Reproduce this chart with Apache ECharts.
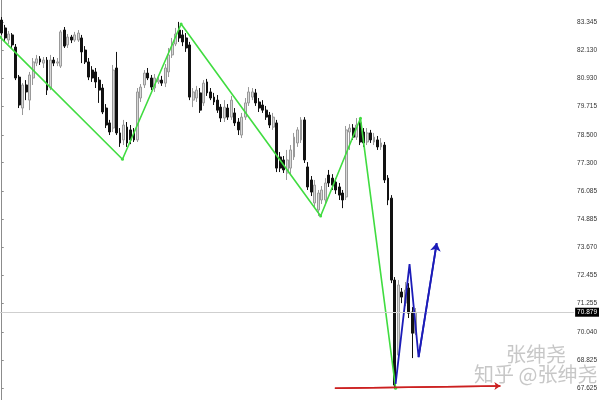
<!DOCTYPE html>
<html>
<head>
<meta charset="utf-8">
<script src="https://cdn.jsdelivr.net/npm/echarts@6/dist/echarts.min.js"></script>
<style>html,body{margin:0;padding:0;background:#fff}#chart{width:600px;height:400px}</style>
</head>
<body>
<div id="chart"></div>
<script>
// ---- data ----
const slotCount = 165; // category slots across the plot (candles occupy the first ones)
const opens  = [83.43,83.09,82.57,82.79,82.27,80.98,79.65,80.64,79.99,80.94,81.58,81.76,81.58,81.71,80.51,81.71,81.58,81.45,83.00,82.36,82.70,82.57,82.57,82.66,82.14,81.63,81.28,81.20,80.85,80.51,79.65,79.01,78.79,81.37,78.58,78.28,78.83,78.71,78.62,78.28,80.08,80.64,81.15,80.94,80.51,80.77,80.85,80.72,81.20,81.93,82.40,83.00,82.79,82.66,82.36,79.99,80.08,80.30,79.87,80.77,80.34,80.12,79.99,79.69,79.22,79.65,79.26,79.44,79.05,78.49,79.26,79.87,80.12,80.30,79.91,79.78,79.56,79.35,78.83,79.01,77.55,77.42,76.86,77.07,77.55,78.15,78.28,79.14,77.12,76.56,75.57,75.27,75.70,75.70,76.77,76.64,76.47,76.26,76.00,75.83,78.62,78.79,78.40,79.01,78.62,78.19,78.58,78.19,78.28,77.98,78.06,76.64,75.78,72.26,69.04,71.75,71.27,71.92,70.89,69.98];
const closes = [82.87,82.66,82.83,82.36,80.94,79.78,80.64,80.34,81.07,81.63,81.76,81.63,81.71,80.42,81.71,81.58,81.63,82.92,82.31,82.70,82.57,82.79,82.87,82.06,81.63,80.98,80.94,80.77,80.42,79.48,78.92,78.62,81.28,78.58,78.15,78.92,78.15,78.28,78.28,80.34,80.55,81.15,80.94,80.55,80.94,80.85,80.72,81.37,81.93,82.40,82.83,82.66,82.49,82.23,80.12,80.34,80.42,79.56,80.72,80.30,80.08,79.91,79.56,79.22,79.69,79.26,79.99,79.01,78.71,79.26,79.87,80.34,80.34,79.87,79.65,79.56,79.26,78.92,79.26,77.07,77.07,76.99,77.42,77.85,78.40,78.71,79.14,77.42,76.26,76.04,76.34,76.00,76.13,76.43,76.43,76.34,76.13,75.91,75.70,78.71,78.79,78.40,78.92,78.19,78.15,78.58,78.28,78.40,77.98,78.15,76.56,75.70,72.26,67.75,72.05,71.53,71.83,70.84,69.98,70.879];
const lows   = [82.79,82.49,82.40,82.23,80.85,79.65,79.35,79.99,79.56,80.64,81.45,81.50,81.37,80.21,80.42,81.45,81.45,81.37,82.23,82.23,82.44,82.49,82.49,81.58,81.54,80.85,80.77,80.51,79.87,79.39,78.79,78.49,78.62,78.49,77.98,78.06,77.98,78.10,78.19,78.19,79.91,80.51,80.85,80.42,80.34,80.68,80.60,80.55,80.98,81.80,82.31,82.49,82.31,82.06,79.99,79.69,79.91,79.44,79.74,80.17,79.99,79.78,79.44,79.05,79.05,79.14,79.14,78.88,78.49,78.36,79.14,79.74,79.99,79.74,79.48,79.44,79.14,78.79,78.71,76.90,76.90,76.86,76.56,76.77,77.42,77.98,78.15,77.29,76.13,75.87,75.40,75.01,75.53,75.48,76.26,76.13,75.96,75.70,75.35,75.70,77.85,78.28,78.28,78.06,77.98,78.06,78.15,78.06,77.85,77.85,76.43,75.48,72.13,67.58,68.82,71.27,71.14,70.63,68.91,69.90];
const highs  = [83.56,83.22,82.96,82.87,82.40,81.07,80.72,80.85,81.20,81.80,81.93,81.88,81.84,81.84,81.93,81.84,81.80,83.00,83.13,82.83,82.79,82.92,83.00,82.79,82.31,81.80,81.45,81.37,80.98,80.68,79.82,79.14,81.50,82.06,78.79,79.14,79.05,78.92,78.79,80.51,80.68,81.28,81.37,81.07,81.11,80.98,81.03,81.54,82.23,82.66,83.09,83.35,83.00,82.87,82.49,80.51,80.60,80.51,80.85,80.90,80.51,80.30,80.21,79.82,79.99,79.82,80.17,79.65,79.22,79.44,80.08,80.55,80.51,80.47,80.08,79.99,79.74,79.48,79.44,79.14,77.76,77.59,77.85,78.06,78.58,78.83,79.26,79.26,77.33,76.73,76.56,76.13,76.30,76.64,76.99,76.81,76.64,76.43,76.13,78.88,78.96,78.96,79.22,79.22,78.79,78.79,78.71,78.58,78.45,78.36,78.19,76.77,75.91,72.39,72.26,71.92,72.18,72.13,71.10,71.06];
const currentPrice = 70.879;
const yTicks = [83.345,82.130,80.930,79.715,78.500,77.300,76.085,74.885,73.670,72.455,71.255,70.040,68.825,67.625];
// green zigzag (x in candle-slot units)
const zigzagX = [-0.5, 34.7, 51.55, 91.65, 103.1, 113.2];
const zigzagY = [82.70, 77.45, 83.26, 75.01, 79.21, 67.62];
// blue projected wave
const waveX = [113.2, 117.2, 119.8, 125.0];
const waveY = [67.80, 72.95, 68.95, 73.85];
// red support line
const supportX = [95.75, 143.3];
const supportY = [67.62, 67.71];

const categories = Array.from({length: slotCount}, (_, i) => String(i + 1));
const candles = opens.map((o, i) => [o, closes[i], lows[i], highs[i]]);
const pairs = (xs, ys) => xs.map((x, i) => [x, ys[i]]);

const chart = echarts.init(document.getElementById('chart'), null, {renderer: 'canvas'});
chart.setOption({
  animation: false,
  backgroundColor: '#ffffff',
  grid: {left: 0, right: 24, top: 0, bottom: 0},
  xAxis: [
    {type: 'category', data: categories, show: false, boundaryGap: true},
    {type: 'value', min: -0.5, max: slotCount - 0.5, show: false}
  ],
  yAxis: {
    type: 'value', position: 'right', min: 67.11, max: 84.29,
    splitLine: {show: false},
    axisLine: {show: true, lineStyle: {color: '#8c8c8c', width: 1}},
    axisTick: {show: true, customValues: yTicks, length: 2, inside: false, lineStyle: {color: '#8c8c8c'}},
    axisLabel: {
      customValues: yTicks, margin: 3, fontSize: 6.5, color: '#333',
      fontFamily: 'Liberation Sans',
      formatter: v => v.toFixed(3)
    }
  },
  series: [
    {
      type: 'candlestick', xAxisIndex: 0, yAxisIndex: 0,
      data: candles, barWidth: 2.4,
      itemStyle: {color: '#d8d8d8', color0: '#111111', borderColor: '#999999', borderColor0: '#111111', borderWidth: 1},
      markLine: {
        silent: true, symbol: ['none', 'none'],
        lineStyle: {color: '#cfcfcf', width: 1, type: 'solid'},
        label: {show: true, position: 'end', distance: 1, formatter: () => currentPrice.toFixed(3),
          backgroundColor: '#000', color: '#fff', fontSize: 6.5, padding: [1, 2], fontFamily: 'Liberation Sans'},
        data: [{yAxis: currentPrice}]
      }
    },
    {
      type: 'line', xAxisIndex: 1, yAxisIndex: 0,
      data: pairs(zigzagX, zigzagY),
      lineStyle: {color: '#40dc40', width: 1.6},
      itemStyle: {color: '#40dc40'},
      symbol: 'circle', symbolSize: 3, showSymbol: true
    },
    {
      type: 'line', xAxisIndex: 1, yAxisIndex: 0,
      data: pairs(supportX, supportY),
      lineStyle: {color: '#cc2020', width: 1.5},
      symbol: 'none',
      markLine: {
        silent: true, symbol: ['none', 'arrow'], symbolSize: 6,
        lineStyle: {color: '#cc2020', width: 1.5, type: 'solid'}, label: {show: false},
        data: [[{coord: [supportX[0], supportY[0]]}, {coord: [supportX[1], supportY[1]]}]]
      }
    },
    {
      type: 'line', xAxisIndex: 1, yAxisIndex: 0,
      data: pairs(waveX, waveY),
      lineStyle: {color: '#1c1cb8', width: 1.8},
      symbol: 'none',
      markLine: {
        silent: true, symbol: ['none', 'arrow'], symbolSize: 8,
        lineStyle: {color: '#1c1cb8', width: 1.8, type: 'solid'}, label: {show: false},
        data: [[{coord: [waveX[2], waveY[2]]}, {coord: [waveX[3], waveY[3]]}]]
      }
    }
  ],
  graphic: [
    {type: 'text', left: 506, top: 344, z: 100,
      style: {text: '张绅尧', font: '20px "Noto Sans CJK SC"', fill: 'rgba(185,185,185,0.8)'}},
    {type: 'text', left: 474, top: 364, z: 100,
      style: {text: '知乎 @张绅尧', font: '20px "Noto Sans CJK SC"', fill: 'rgba(185,185,185,0.8)'}}
  ]
});
</script>
</body>
</html>
